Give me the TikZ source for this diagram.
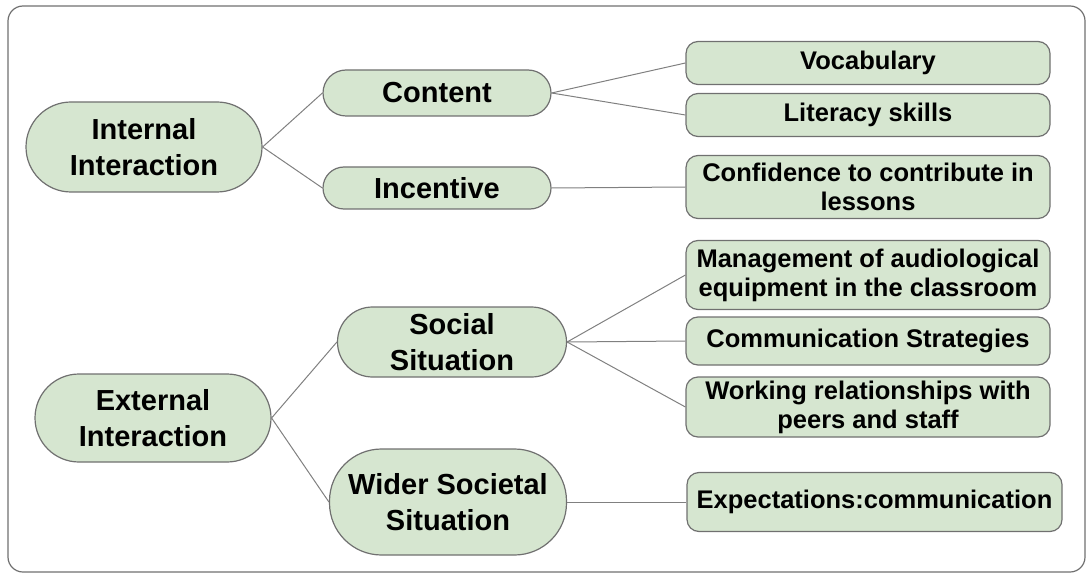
\documentclass[tikz,border=0pt]{standalone}
\usepackage{fontspec}
\setmainfont{Liberation Sans}
\usepackage{xcolor}
\usepackage{tikz}
\usetikzlibrary{positioning, calc}
\definecolor{leafgreen}{RGB}{214, 230, 208}
\definecolor{rimgray}{RGB}{112, 112, 112}
\definecolor{linkgray}{RGB}{128, 128, 128}

\begin{document}
\begin{tikzpicture}[x=1pt, y=-1pt,
    pill/.style={draw=rimgray, line width=1.2pt, fill=leafgreen, inner sep=0pt,
        align=center, font=\fontsize{29}{36}\selectfont\bfseries},
    leaf/.style={draw=rimgray, line width=1.2pt, fill=leafgreen, inner sep=0pt,
        rounded corners=12pt, align=center, minimum width=364pt,
        font=\fontsize{25.5}{29}\selectfont\bfseries},
    link/.style={draw=linkgray, line width=1pt}]
    \useasboundingbox (0,0) rectangle (1091,577);

    % Outer frame
    \draw[rimgray, line width=1.2pt, rounded corners=15pt] (8,6) rectangle (1085,572);

    % Root nodes
    \node[pill, minimum width=236pt, minimum height=90pt, rounded corners=45pt]
        (intl) at (144,147) {Internal\\Interaction};
    \node[pill, minimum width=236pt, minimum height=88pt, rounded corners=44pt]
        (extl) at (153,418) {External\\Interaction};

    % Second level
    \node[pill, minimum width=228pt, minimum height=46pt, rounded corners=23pt]
        (content) at (437,93) {Content};
    \node[pill, minimum width=228pt, minimum height=42pt, rounded corners=21pt]
        (incent) at (437,188) {Incentive};
    \node[pill, minimum width=229pt, minimum height=70pt, rounded corners=35pt]
        (social) at (452,342) {Social\\Situation};
    \node[pill, minimum width=237pt, minimum height=106pt, rounded corners=52pt]
        (wider) at (448,502) {Wider Societal\\Situation};

    % Leaves
    \node[leaf, minimum height=43pt] (vocab) at (868,63) {Vocabulary};
    \node[leaf, minimum height=43pt] (liter) at (868,115) {Literacy skills};
    \node[leaf, minimum height=63pt] (confid) at (868,187) {Confidence to contribute in\\lessons};
    \node[leaf, minimum height=69pt] (manage) at (868,275) {Management of audiological\\equipment in the classroom};
    \node[leaf, minimum height=48pt] (commun) at (868,341) {Communication Strategies};
    \node[leaf, minimum height=60pt] (workrel) at (868,407) {Working relationships with\\peers and staff};
    \node[leaf, minimum height=59pt, minimum width=375pt] (expect) at (874.5,502) {Expectations:communication};

    % Connectors
    \draw[link] (intl.east) -- (content.west);
    \draw[link] (intl.east) -- (incent.west);
    \draw[link] (extl.east) -- (social.west);
    \draw[link] (extl.east) -- (wider.west);
    \draw[link] (content.east) -- (vocab.west);
    \draw[link] (content.east) -- (liter.west);
    \draw[link] (incent.east) -- (confid.west);
    \draw[link] (social.east) -- (manage.west);
    \draw[link] (social.east) -- (commun.west);
    \draw[link] (social.east) -- (workrel.west);
    \draw[link] (wider.east) -- (expect.west);
\end{tikzpicture}
\end{document}
